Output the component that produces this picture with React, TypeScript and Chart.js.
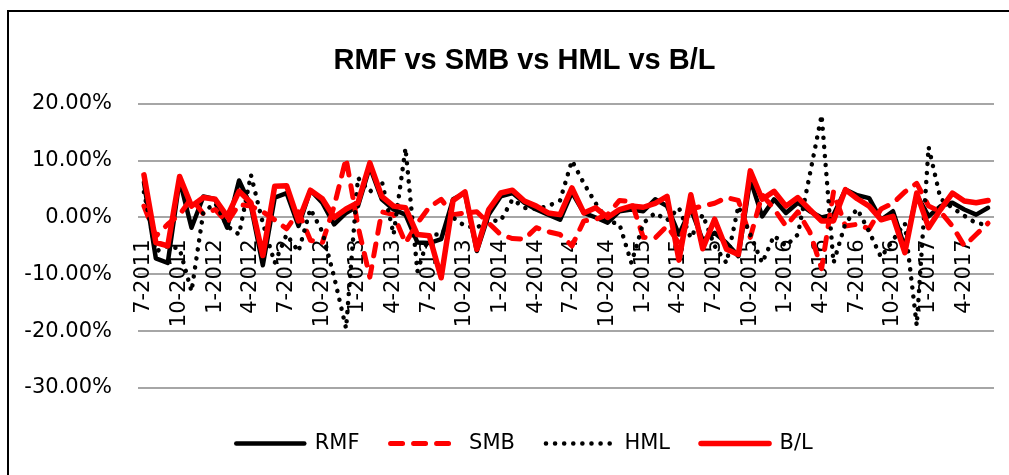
import React, { useEffect, useRef } from 'react';
import { Chart, registerables } from 'chart.js';

Chart.register(...registerables);

const months: string[] = [
  '7-2011', '8-2011', '9-2011', '10-2011', '11-2011', '12-2011',
  '1-2012', '2-2012', '3-2012', '4-2012', '5-2012', '6-2012', '7-2012', '8-2012', '9-2012', '10-2012', '11-2012', '12-2012',
  '1-2013', '2-2013', '3-2013', '4-2013', '5-2013', '6-2013', '7-2013', '8-2013', '9-2013', '10-2013', '11-2013', '12-2013',
  '1-2014', '2-2014', '3-2014', '4-2014', '5-2014', '6-2014', '7-2014', '8-2014', '9-2014', '10-2014', '11-2014', '12-2014',
  '1-2015', '2-2015', '3-2015', '4-2015', '5-2015', '6-2015', '7-2015', '8-2015', '9-2015', '10-2015', '11-2015', '12-2015',
  '1-2016', '2-2016', '3-2016', '4-2016', '5-2016', '6-2016', '7-2016', '8-2016', '9-2016', '10-2016', '11-2016', '12-2016',
  '1-2017', '2-2017', '3-2017', '4-2017', '5-2017', '6-2017',
];

// values in percent
const rmf: number[] = [
  6.2, -7.2, -8.0, 6.6, -1.8, 3.7, 3.2, -1.8, 6.5, 2.0, -8.4, 3.5,
  4.3, -1.5, 4.8, 2.6, -1.2, 0.8, 2.0, 8.9, 3.2, 1.4, 0.5, -4.4,
  -4.5, -3.8, 3.2, 4.3, -5.9, 0.5, 3.7, 4.3, 2.6, 1.4, 0.5, -0.4,
  4.4, 0.8, 0.0, -0.9, 1.1, 1.4, 1.1, 3.2, 2.0, -3.0, 1.5, -4.0,
  -2.7, -4.5, -6.8, 6.7, 0.2, 3.2, 0.8, 2.6, 1.1, 0.0, 0.5, 4.9,
  3.9, 3.4, -0.4, 1.1, -5.3, 4.0, 0.2, 2.0, 2.6, 1.4, 0.5, 1.7,
];

const smb: number[] = [
  2.0, -3.3, -1.2, 0.5, 3.4, 0.6, 1.4, -0.9, 2.3, 2.0, 1.0, -0.4,
  -2.0, 1.0, -4.0, -4.5, 2.0, 10.4, -1.5, -10.5, 1.0, 0.5, -4.5, -1.0,
  1.8, 3.2, 0.5, 0.8, 1.0, -1.0, -3.0, -3.7, -3.8, -1.8, -2.5, -3.0,
  -5.0, -0.6, -0.3, 0.5, 3.0, 2.8, -3.5, -3.6, -1.5, -4.5, 1.5, 2.0,
  2.5, 3.5, 3.0, -3.5, 4.0, 1.5, -1.5, 1.0, -2.5, -9.0, 4.5, -1.5,
  -1.2, -2.0, 1.5, 2.5, 4.5, 6.0, 2.0, 1.0, -1.5, -5.0, -3.0, -1.0,
];

const hml: number[] = [
  4.5, -6.0, -5.0, -5.5, -13.0, 1.0, 2.5, -1.5, -3.0, 7.5, -1.0, -8.0,
  -3.0, -6.0, 1.5, -2.5, -10.5, -19.5, 7.0, 4.5, 6.5, -3.0, 12.2, -9.5,
  -3.0, -3.0, 0.0, -1.5, -1.8, -0.5, -0.6, 3.2, 1.7, 1.5, 2.0, 3.0,
  10.0, 6.0, 2.5, -0.6, -1.2, -8.0, -1.0, 0.8, -0.5, 1.7, -3.6, 0.5,
  -5.0, -8.0, 2.0, -3.0, -8.0, -3.2, -5.0, -3.0, 7.5, 18.0, -8.0, -1.0,
  1.5, -2.5, -7.0, -4.0, -1.0, -19.0, 12.4, 3.3, 1.7, 0.3, -1.0, -1.3,
];

const bl: number[] = [
  7.5, -4.4, -5.0, 7.2, 2.0, 3.5, 3.2, 0.2, 4.6, 2.6, -6.7, 5.5,
  5.6, -0.6, 4.8, 3.3, 0.0, 1.5, 2.6, 9.6, 3.7, 2.0, 1.7, -3.0,
  -3.2, -10.6, 3.0, 4.5, -5.6, 1.4, 4.3, 4.8, 2.9, 2.0, 0.8, 0.5,
  5.2, 0.8, 1.7, 0.0, 1.4, 2.0, 1.8, 2.5, 3.7, -7.5, 4.0, -5.5,
  -0.3, -5.6, -6.5, 8.2, 3.2, 4.6, 2.0, 3.5, 1.4, -0.6, -0.6, 4.9,
  3.3, 2.0, -0.4, 0.2, -6.2, 4.3, -1.8, 1.4, 4.3, 2.9, 2.6, 3.0,
];

const yTickValues: number[] = [-30, -20, -10, 0, 10, 20];
const titleText = 'RMF vs SMB vs HML vs B/L';
const labelEvery = 3;

const AXIS_FONT = "'DejaVu Sans', sans-serif";
const AXIS_SIZE = 21;
const CANVAS_W = 1009;
const CANVAS_H = 475;
const LEFT_PAD = 55;
const PLOT_LEFT = 138;
const PLOT_RIGHT = 994;
const Y_LABEL_RIGHT = 112;

const fmtPct = (v: number) => Number(v).toFixed(2) + '%';

export default function App() {
  const ref = useRef<HTMLCanvasElement>(null);

  useEffect(() => {
    if (!ref.current) return;
    Chart.defaults.color = '#000';
    Chart.defaults.font.family = AXIS_FONT;
    const baseGen = (Chart.defaults as any).plugins.legend.labels.generateLabels;

    // width of widest y label, so the (mirrored, unclipped) labels end at Y_LABEL_RIGHT
    const mctx = document.createElement('canvas').getContext('2d') as CanvasRenderingContext2D;
    mctx.font = `${AXIS_SIZE}px ${AXIS_FONT}`;
    const widest = Math.max(...yTickValues.map((v) => mctx.measureText(fmtPct(v)).width));

    const chart = new Chart(ref.current, {
      type: 'line',
      data: {
        labels: months,
        datasets: [
          {
            label: 'RMF', data: rmf, borderColor: '#000000', backgroundColor: '#000000',
            borderWidth: 4.5, pointRadius: 0, tension: 0, order: 4,
            borderJoinStyle: 'round', borderCapStyle: 'round',
          },
          {
            label: 'SMB', data: smb, borderColor: '#ff0000', backgroundColor: '#ff0000',
            borderWidth: 5, pointRadius: 0, tension: 0, order: 3, borderDash: [12, 11],
            borderJoinStyle: 'round', borderCapStyle: 'round',
          },
          {
            label: 'HML', data: hml, borderColor: '#000000', backgroundColor: '#000000',
            borderWidth: 4.5, pointRadius: 0, tension: 0, order: 2, borderDash: [0.1, 9],
            borderJoinStyle: 'round', borderCapStyle: 'round',
          },
          {
            label: 'B/L', data: bl, borderColor: '#ff0000', backgroundColor: '#ff0000',
            borderWidth: 5.5, pointRadius: 0, tension: 0, order: 1,
            borderJoinStyle: 'round', borderCapStyle: 'round',
          },
        ],
      },
      options: {
        responsive: false,
        animation: false,
        layout: { padding: { left: LEFT_PAD, right: CANVAS_W - PLOT_RIGHT, top: 0, bottom: 11 } },
        plugins: {
          tooltip: { enabled: false },
          title: {
            display: true,
            text: titleText,
            color: '#000',
            font: { family: "'Liberation Sans Narrow', 'Liberation Sans', sans-serif", size: 29, weight: 'bold' },
            padding: { top: 44, bottom: 25 },
          },
          legend: {
            display: true,
            position: 'bottom',
            title: { display: true, text: '', font: { size: 10 }, padding: { top: 2, bottom: 0 } },
            labels: {
              usePointStyle: true,
              pointStyle: 'line',
              pointStyleWidth: 68,
              padding: 31,
              color: '#000',
              font: { family: AXIS_FONT, size: AXIS_SIZE },
              sort: (a: any, b: any) => a.datasetIndex - b.datasetIndex,
              generateLabels: (c: any) => {
                const items = baseGen(c);
                items.forEach((it: any) => {
                  const ds = c.data.datasets[it.datasetIndex];
                  it.lineDash = ds.borderDash || [];
                  it.lineWidth = ds.borderWidth;
                  it.lineCap = 'round';
                  it.strokeStyle = ds.borderColor;
                });
                return items;
              },
            },
          },
        },
        scales: {
          x: {
            type: 'category',
            offset: true,
            position: { y: 0 } as any,
            // labels sit inside the plot, so they need no side padding
            afterFit: (s: any) => { s.paddingLeft = 0; s.paddingRight = 0; },
            grid: { display: false, drawTicks: false },
            border: { display: false },
            ticks: {
              autoSkip: false,
              minRotation: 90,
              maxRotation: 90,
              padding: 22,
              color: '#000',
              font: { family: AXIS_FONT, size: AXIS_SIZE },
              callback: (_v: any, i: number) => (i % labelEvery === 0 ? months[i] : ''),
            },
          },
          y: {
            min: yTickValues[0],
            max: yTickValues[yTickValues.length - 1],
            afterFit: (s: any) => { s.width = PLOT_LEFT - LEFT_PAD; },
            grid: { color: '#a6a6a6', lineWidth: 2, drawTicks: false },
            border: { display: false },
            ticks: {
              stepSize: yTickValues[1] - yTickValues[0],
              mirror: true,
              crossAlign: 'far',
              padding: Y_LABEL_RIGHT - PLOT_LEFT - widest,
              color: '#000',
              font: { family: AXIS_FONT, size: AXIS_SIZE },
              callback: (v: any) => fmtPct(v),
            },
          },
        },
      },
    } as any);
    return () => chart.destroy();
  }, []);

  return (
    <div style={{ position: 'absolute', left: 0, top: 0, width: 1009, height: 475, overflow: 'hidden', background: '#fff' }}>
      <canvas ref={ref} width={CANVAS_W} height={CANVAS_H} style={{ position: 'absolute', left: 0, top: 0 }} />
      <div
        style={{
          position: 'absolute', left: 7, top: 10, width: 1100, height: 600,
          borderLeft: '2px solid #000', borderTop: '2px solid #000', pointerEvents: 'none',
        }}
      />
    </div>
  );
}
